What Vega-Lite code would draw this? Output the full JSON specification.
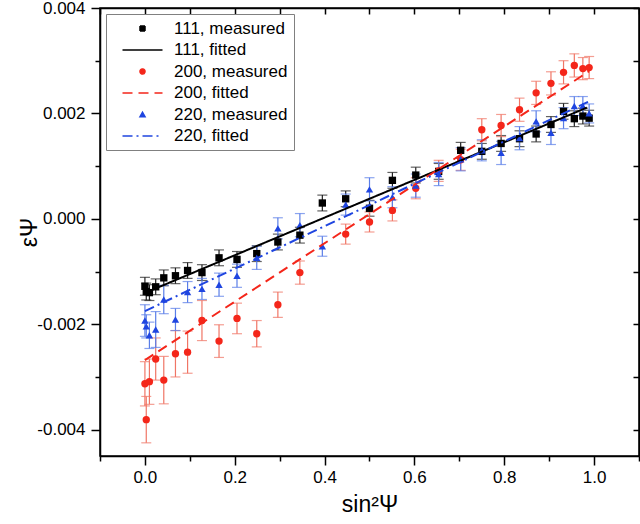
{
  "$schema": "https://vega.github.io/schema/vega-lite/v6.json",
  "width": 539,
  "height": 448,
  "autosize": {"type": "none"},
  "padding": {"left": 100, "top": 8, "right": 1, "bottom": 68},
  "config": {
    "font": "Liberation Sans",
    "view": {"stroke": "black", "strokeWidth": 1.5},
    "axis": {"grid": false, "domainColor": "black", "domainWidth": 1.5, "tickColor": "black", "tickWidth": 1.5, "labelColor": "black", "titleColor": "black", "labelFontSize": 17, "titleFontSize": 23, "titleFontWeight": "normal", "labelFont": "Liberation Sans", "titleFont": "Liberation Sans"},
    "legend": {"orient": "top-left", "offset": 6, "padding": 6, "strokeColor": "#808080", "fillColor": "white", "labelFontSize": 17, "labelFont": "Liberation Sans", "labelColor": "black", "symbolSize": 25, "symbolOffset": 22, "labelOffset": 23, "rowPadding": 3.5, "labelLimit": 300}
  },
  "datasets": {
    "measured": [
      {"s2": 0.000, "eps": -0.00128, "err": 0.00017, "series": "111, measured"},
      {"s2": 0.003, "eps": -0.00138, "err": 0.00016, "series": "111, measured"},
      {"s2": 0.010, "eps": -0.00140, "err": 0.00015, "series": "111, measured"},
      {"s2": 0.024, "eps": -0.00129, "err": 0.00015, "series": "111, measured"},
      {"s2": 0.042, "eps": -0.00112, "err": 0.00015, "series": "111, measured"},
      {"s2": 0.068, "eps": -0.00108, "err": 0.00015, "series": "111, measured"},
      {"s2": 0.095, "eps": -0.00098, "err": 0.00015, "series": "111, measured"},
      {"s2": 0.127, "eps": -0.00102, "err": 0.00015, "series": "111, measured"},
      {"s2": 0.165, "eps": -0.00074, "err": 0.00015, "series": "111, measured"},
      {"s2": 0.205, "eps": -0.00077, "err": 0.00015, "series": "111, measured"},
      {"s2": 0.249, "eps": -0.00066, "err": 0.00015, "series": "111, measured"},
      {"s2": 0.296, "eps": -0.00044, "err": 0.00015, "series": "111, measured"},
      {"s2": 0.345, "eps": -0.00031, "err": 0.00015, "series": "111, measured"},
      {"s2": 0.395, "eps": 0.00030, "err": 0.00015, "series": "111, measured"},
      {"s2": 0.447, "eps": 0.00038, "err": 0.00015, "series": "111, measured"},
      {"s2": 0.500, "eps": 0.00020, "err": 0.00015, "series": "111, measured"},
      {"s2": 0.551, "eps": 0.00073, "err": 0.00015, "series": "111, measured"},
      {"s2": 0.603, "eps": 0.00083, "err": 0.00015, "series": "111, measured"},
      {"s2": 0.654, "eps": 0.00090, "err": 0.00015, "series": "111, measured"},
      {"s2": 0.703, "eps": 0.00130, "err": 0.00015, "series": "111, measured"},
      {"s2": 0.750, "eps": 0.00128, "err": 0.00015, "series": "111, measured"},
      {"s2": 0.793, "eps": 0.00143, "err": 0.00015, "series": "111, measured"},
      {"s2": 0.834, "eps": 0.00152, "err": 0.00015, "series": "111, measured"},
      {"s2": 0.871, "eps": 0.00161, "err": 0.00015, "series": "111, measured"},
      {"s2": 0.904, "eps": 0.00179, "err": 0.00015, "series": "111, measured"},
      {"s2": 0.932, "eps": 0.00204, "err": 0.00015, "series": "111, measured"},
      {"s2": 0.956, "eps": 0.00190, "err": 0.00015, "series": "111, measured"},
      {"s2": 0.975, "eps": 0.00195, "err": 0.00015, "series": "111, measured"},
      {"s2": 0.989, "eps": 0.00191, "err": 0.00015, "series": "111, measured"},

      {"s2": 0.000, "eps": -0.00313, "err": 0.00042, "series": "200, measured"},
      {"s2": 0.003, "eps": -0.00381, "err": 0.00044, "series": "200, measured"},
      {"s2": 0.010, "eps": -0.00309, "err": 0.00043, "series": "200, measured"},
      {"s2": 0.024, "eps": -0.00266, "err": 0.00040, "series": "200, measured"},
      {"s2": 0.042, "eps": -0.00306, "err": 0.00045, "series": "200, measured"},
      {"s2": 0.068, "eps": -0.00256, "err": 0.00044, "series": "200, measured"},
      {"s2": 0.095, "eps": -0.00253, "err": 0.00040, "series": "200, measured"},
      {"s2": 0.127, "eps": -0.00193, "err": 0.00038, "series": "200, measured"},
      {"s2": 0.165, "eps": -0.00232, "err": 0.00031, "series": "200, measured"},
      {"s2": 0.205, "eps": -0.00189, "err": 0.00029, "series": "200, measured"},
      {"s2": 0.249, "eps": -0.00218, "err": 0.00025, "series": "200, measured"},
      {"s2": 0.296, "eps": -0.00163, "err": 0.00024, "series": "200, measured"},
      {"s2": 0.345, "eps": -0.00102, "err": 0.00022, "series": "200, measured"},
      {"s2": 0.447, "eps": -0.00029, "err": 0.00019, "series": "200, measured"},
      {"s2": 0.500, "eps": -0.00006, "err": 0.00019, "series": "200, measured"},
      {"s2": 0.551, "eps": 0.00016, "err": 0.00020, "series": "200, measured"},
      {"s2": 0.603, "eps": 0.00058, "err": 0.00020, "series": "200, measured"},
      {"s2": 0.654, "eps": 0.00091, "err": 0.00020, "series": "200, measured"},
      {"s2": 0.703, "eps": 0.00112, "err": 0.00020, "series": "200, measured"},
      {"s2": 0.750, "eps": 0.00169, "err": 0.00021, "series": "200, measured"},
      {"s2": 0.793, "eps": 0.00177, "err": 0.00021, "series": "200, measured"},
      {"s2": 0.834, "eps": 0.00207, "err": 0.00022, "series": "200, measured"},
      {"s2": 0.871, "eps": 0.00239, "err": 0.00022, "series": "200, measured"},
      {"s2": 0.904, "eps": 0.00257, "err": 0.00022, "series": "200, measured"},
      {"s2": 0.932, "eps": 0.00278, "err": 0.00022, "series": "200, measured"},
      {"s2": 0.956, "eps": 0.00291, "err": 0.00022, "series": "200, measured"},
      {"s2": 0.975, "eps": 0.00285, "err": 0.00021, "series": "200, measured"},
      {"s2": 0.989, "eps": 0.00287, "err": 0.00021, "series": "200, measured"},

      {"s2": 0.000, "eps": -0.00193, "err": 0.00030, "series": "220, measured"},
      {"s2": 0.003, "eps": -0.00204, "err": 0.00022, "series": "220, measured"},
      {"s2": 0.010, "eps": -0.00221, "err": 0.00025, "series": "220, measured"},
      {"s2": 0.024, "eps": -0.00210, "err": 0.00034, "series": "220, measured"},
      {"s2": 0.042, "eps": -0.00153, "err": 0.00027, "series": "220, measured"},
      {"s2": 0.068, "eps": -0.00191, "err": 0.00021, "series": "220, measured"},
      {"s2": 0.095, "eps": -0.00139, "err": 0.00020, "series": "220, measured"},
      {"s2": 0.127, "eps": -0.00133, "err": 0.00020, "series": "220, measured"},
      {"s2": 0.165, "eps": -0.00125, "err": 0.00022, "series": "220, measured"},
      {"s2": 0.205, "eps": -0.00108, "err": 0.00022, "series": "220, measured"},
      {"s2": 0.249, "eps": -0.00074, "err": 0.00022, "series": "220, measured"},
      {"s2": 0.296, "eps": -0.00018, "err": 0.00020, "series": "220, measured"},
      {"s2": 0.345, "eps": -0.00012, "err": 0.00022, "series": "220, measured"},
      {"s2": 0.395, "eps": -0.00052, "err": 0.00019, "series": "220, measured"},
      {"s2": 0.447, "eps": 0.00027, "err": 0.00020, "series": "220, measured"},
      {"s2": 0.500, "eps": 0.00056, "err": 0.00022, "series": "220, measured"},
      {"s2": 0.551, "eps": 0.00041, "err": 0.00020, "series": "220, measured"},
      {"s2": 0.603, "eps": 0.00063, "err": 0.00022, "series": "220, measured"},
      {"s2": 0.654, "eps": 0.00085, "err": 0.00022, "series": "220, measured"},
      {"s2": 0.703, "eps": 0.00113, "err": 0.00022, "series": "220, measured"},
      {"s2": 0.750, "eps": 0.00130, "err": 0.00020, "series": "220, measured"},
      {"s2": 0.793, "eps": 0.00125, "err": 0.00022, "series": "220, measured"},
      {"s2": 0.834, "eps": 0.00153, "err": 0.00022, "series": "220, measured"},
      {"s2": 0.871, "eps": 0.00185, "err": 0.00020, "series": "220, measured"},
      {"s2": 0.904, "eps": 0.00163, "err": 0.00022, "series": "220, measured"},
      {"s2": 0.932, "eps": 0.00191, "err": 0.00020, "series": "220, measured"},
      {"s2": 0.956, "eps": 0.00214, "err": 0.00018, "series": "220, measured"},
      {"s2": 0.975, "eps": 0.00214, "err": 0.00018, "series": "220, measured"},
      {"s2": 0.989, "eps": 0.00200, "err": 0.00018, "series": "220, measured"}
    ],
    "fitted": [
      {"s2": 0.010, "eps": -0.00137, "series": "111, fitted"},
      {"s2": 0.984, "eps": 0.00211, "series": "111, fitted"},
      {"s2": 0.000, "eps": -0.00268, "series": "200, fitted"},
      {"s2": 0.989, "eps": 0.00280, "series": "200, fitted"},
      {"s2": 0.000, "eps": -0.00175, "series": "220, fitted"},
      {"s2": 0.989, "eps": 0.00223, "series": "220, fitted"}
    ]
  },
  "resolve": {"axis": {"x": "independent", "y": "independent"}},
  "layer": [
    {
      "data": {"name": "measured"},
      "transform": [{"filter": "datum.series == '111, measured'"}],
      "mark": {"type": "errorbar", "ticks": true, "size": 10, "thickness": 1.2, "color": "#202020"},
      "encoding": {
        "x": {"field": "s2", "type": "quantitative", "scale": {"domain": [-0.1, 1.1], "nice": false, "zero": false}, "axis": null},
        "y": {"field": "eps", "type": "quantitative", "scale": {"domain": [-0.0045, 0.004], "nice": false, "zero": false}, "axis": null},
        "yError": {"field": "err"}
      }
    },
    {
      "data": {"name": "measured"},
      "transform": [{"filter": "datum.series == '200, measured'"}],
      "mark": {"type": "errorbar", "ticks": true, "size": 10, "thickness": 1.2, "color": "#f07565"},
      "encoding": {
        "x": {"field": "s2", "type": "quantitative", "scale": {"domain": [-0.1, 1.1], "nice": false, "zero": false}, "axis": null},
        "y": {"field": "eps", "type": "quantitative", "scale": {"domain": [-0.0045, 0.004], "nice": false, "zero": false}, "axis": null},
        "yError": {"field": "err"}
      }
    },
    {
      "data": {"name": "measured"},
      "transform": [{"filter": "datum.series == '220, measured'"}],
      "mark": {"type": "errorbar", "ticks": true, "size": 10, "thickness": 1.2, "color": "#5a7ee8"},
      "encoding": {
        "x": {"field": "s2", "type": "quantitative", "scale": {"domain": [-0.1, 1.1], "nice": false, "zero": false}, "axis": null},
        "y": {"field": "eps", "type": "quantitative", "scale": {"domain": [-0.0045, 0.004], "nice": false, "zero": false}, "axis": null},
        "yError": {"field": "err"}
      }
    },
    {
      "data": {"name": "measured"},
      "mark": {"type": "point", "filled": true, "size": 54, "opacity": 1},
      "encoding": {
        "x": {"field": "s2", "type": "quantitative", "scale": {"domain": [-0.1, 1.1], "nice": false, "zero": false},
          "axis": {"orient": "bottom", "title": "sin²Ψ", "values": [-0.1, 0, 0.1, 0.2, 0.3, 0.4, 0.5, 0.6, 0.7, 0.8, 0.9, 1.0, 1.1],
            "labelExpr": "abs(round(datum.value*10)) % 2 == 0 ? format(datum.value, '.1f') : ''",
            "tickSize": {"condition": {"test": "abs(round(datum.value*10)) % 2 == 0", "value": 9}, "value": 5},
            "labelPadding": 4, "titlePadding": 8, "labelFlush": false, "labelOverlap": false}},
        "y": {"field": "eps", "type": "quantitative", "scale": {"domain": [-0.0045, 0.004], "nice": false, "zero": false},
          "axis": {"orient": "left", "title": "εΨ", "values": [-0.004, -0.003, -0.002, -0.001, 0, 0.001, 0.002, 0.003, 0.004],
            "labelExpr": "abs(round(datum.value*1000)) % 2 == 0 ? replace(format(datum.value, '.3f'), '\u2212', '-') : ''",
            "tickSize": {"condition": {"test": "abs(round(datum.value*1000)) % 2 == 0", "value": 9}, "value": 5},
            "labelPadding": 6, "titleX": -71, "titleBaseline": "middle", "labelFlush": false, "labelOverlap": false}},
        "color": {"field": "series", "type": "nominal",
          "scale": {"domain": ["111, measured", "111, fitted", "200, measured", "200, fitted", "220, measured", "220, fitted"], "range": ["#000000", "#000000", "#f4261a", "#f4261a", "#1f45e0", "#1f45e0"]},
          "legend": {"title": null, "encode": {"symbols": {
            "strokeWidth": {"condition": {"test": "indexof(datum.value, 'fitted') >= 0", "value": 2}, "value": 0},
            "stroke": {"condition": [{"test": "indexof(datum.value, '111') >= 0", "value": "#000000"}, {"test": "indexof(datum.value, '200') >= 0", "value": "#f4261a"}], "value": "#1f45e0"},
            "fill": {"condition": [{"test": "indexof(datum.value, '111') >= 0", "value": "#000000"}, {"test": "indexof(datum.value, '200') >= 0", "value": "#f4261a"}], "value": "#1f45e0"},
            "opacity": {"value": 1}}}}},
        "shape": {"field": "series", "type": "nominal",
          "scale": {"domain": ["111, measured", "111, fitted", "200, measured", "200, fitted", "220, measured", "220, fitted"], "range": ["square", "M-8,0H8", "circle", "M-8,0H8", "triangle-up", "M-8,0H8"]},
          "legend": {"title": null}}
      }
    },
    {
      "data": {"name": "fitted"},
      "mark": {"type": "line", "strokeWidth": 2},
      "encoding": {
        "x": {"field": "s2", "type": "quantitative", "scale": {"domain": [-0.1, 1.1], "nice": false, "zero": false},
          "axis": {"orient": "top", "title": null, "labels": false, "values": [-0.1, 0, 0.1, 0.2, 0.3, 0.4, 0.5, 0.6, 0.7, 0.8, 0.9, 1.0, 1.1], "tickSize": -6}},
        "y": {"field": "eps", "type": "quantitative", "scale": {"domain": [-0.0045, 0.004], "nice": false, "zero": false},
          "axis": {"orient": "right", "title": null, "labels": false, "values": [-0.004, -0.003, -0.002, -0.001, 0, 0.001, 0.002, 0.003, 0.004], "tickSize": -6}},
        "color": {"field": "series", "type": "nominal",
          "scale": {"domain": ["111, measured", "111, fitted", "200, measured", "200, fitted", "220, measured", "220, fitted"], "range": ["#000000", "#000000", "#f4261a", "#f4261a", "#1f45e0", "#1f45e0"]},
          "legend": {"title": null}},
        "strokeDash": {"field": "series", "type": "nominal",
          "scale": {"domain": ["111, measured", "111, fitted", "200, measured", "200, fitted", "220, measured", "220, fitted"], "range": [[1, 0], [1, 0], [1, 0], [10, 6], [1, 0], [10, 4, 2, 4]]},
          "legend": {"title": null}}
      }
    }
  ]
}
